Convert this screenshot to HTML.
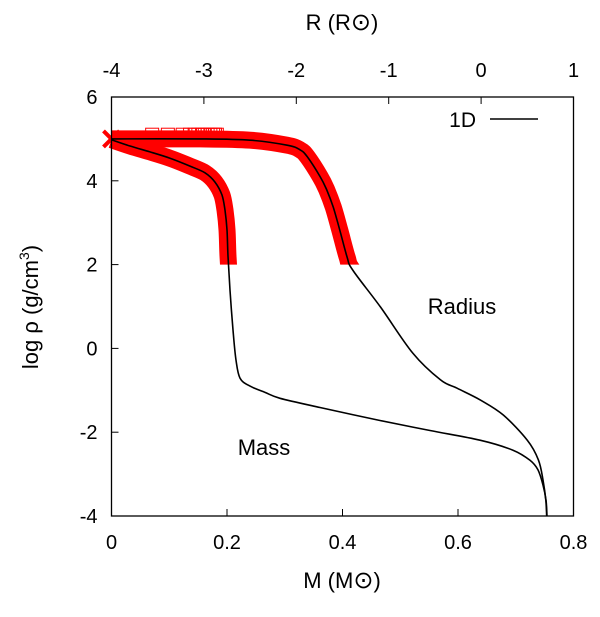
<!DOCTYPE html>
<html><head><meta charset="utf-8"><style>
body{margin:0;background:#fff}
svg text{font-family:"Liberation Sans","DejaVu Sans",sans-serif;fill:#000}
</style></head><body>
<svg id="c" width="600" height="612" viewBox="0 0 600 612">
<defs><clipPath id="above2"><rect x="100" y="80" width="480" height="185"/></clipPath></defs>
<g id="marks"></g>
<rect x="111.5" y="97" width="462" height="419" fill="none" stroke="#000" stroke-width="1.3"/>
<g id="axes"></g>
<text x="462" y="314" font-size="22" text-anchor="middle">Radius</text>
<text x="264" y="455" font-size="22" text-anchor="middle">Mass</text>
<g>
<text x="476" y="127" font-size="21" text-anchor="end">1D</text>
<line x1="490" y1="119" x2="538" y2="119" stroke="#000" stroke-width="1.5"/>
</g>
<text x="342" y="588" font-size="22" text-anchor="middle">M (M<tspan font-size="24">⊙</tspan>)</text>
<text x="342" y="30" font-size="22" text-anchor="middle">R (R<tspan font-size="24">⊙</tspan>)</text>
<text transform="translate(38,307) rotate(-90)" font-size="22" text-anchor="middle">log ρ (g/cm<tspan font-size="14" dy="-9">3</tspan><tspan dy="9">)</tspan></text>
</svg>
<script>
const massM=[0,0.032,0.0667,0.1013,0.1359,0.1619,0.1792,0.1913,0.1965,0.2,0.2017,0.2052,0.2104,0.2156,0.2225,0.2398,0.2658,0.2918,0.361,0.4649,0.5515,0.6381,0.6952,0.7247,0.7385,0.7472,0.7524,0.7541];
const massRho=[4.98,4.83,4.69,4.54,4.35,4.19,3.97,3.66,3.30,2.83,2.2,1.39,0.44,-0.28,-0.71,-0.90,-1.05,-1.19,-1.41,-1.72,-1.96,-2.19,-2.43,-2.67,-2.90,-3.26,-3.62,-4];
const radR=[-4,-3.04,-2.5,-2.1,-1.96,-1.88,-1.74,-1.67,-1.6,-1.53,-1.45,-1.39,-1.09,-0.74,-0.44,-0.26,-0.01,0.24,0.5,0.62,0.67,0.70,0.71];
const radRho=[5.0,5.0,4.97,4.85,4.74,4.57,4.09,3.78,3.37,2.83,2.18,1.87,0.99,-0.11,-0.75,-0.95,-1.23,-1.59,-2.19,-2.66,-3.14,-3.62,-4];
const squareR=[-3.56,-3.39,-3.23,-3.15,-3.1,-3.06,-3.02,-2.99,-2.96,-2.93,-2.9,-2.88,-2.86];
const squareRho=5.1;
const xTicks=[0,0.2,0.4,0.6,0.8];
const xTickLabels=["0","0.2","0.4","0.6","0.8"];
const topTicks=[-4,-3,-2,-1,0,1];
const topTickLabels=["-4","-3","-2","-1","0","1"];
const yTicks=[-4,-2,0,2,4,6];
const yTickLabels=["-4","-2","0","2","4","6"];
const X0=111.5,X1=573.5,Y0=97,Y1=516;
const xM=m=>X0+(m-0)/0.8*(X1-X0);
const xR=r=>X0+(r+4)/5*(X1-X0);
const yS=v=>Y1-(v+4)/10*(Y1-Y0);
const NS="http://www.w3.org/2000/svg";
const marks=document.getElementById('marks'),axes=document.getElementById('axes');
function mk(tag,attrs,parent){const e=document.createElementNS(NS,tag);for(const k in attrs)e.setAttribute(k,attrs[k]);parent.appendChild(e);return e;}
function smooth(xs,ys,fx){const P=xs.map((x,i)=>[fx(x),yS(ys[i])]);let d=`M${P[0][0]},${P[0][1]}`;
 for(let i=0;i<P.length-1;i++){const p0=P[Math.max(0,i-1)],p1=P[i],p2=P[i+1],p3=P[Math.min(P.length-1,i+2)];
  const c1=[p1[0]+(p2[0]-p0[0])/6,p1[1]+(p2[1]-p0[1])/6],c2=[p2[0]-(p3[0]-p1[0])/6,p2[1]-(p3[1]-p1[1])/6];
  d+=`C${c1[0].toFixed(1)},${c1[1].toFixed(1)} ${c2[0].toFixed(1)},${c2[1].toFixed(1)} ${p2[0].toFixed(1)},${p2[1].toFixed(1)}`;}
 return d;}
document.querySelector('#above2 rect').setAttribute('height',yS(2)-80);
let b1=mk('path',{d:smooth(massM,massRho,xM),fill:'none',stroke:'#f00','stroke-width':17,'clip-path':'url(#above2)'},marks);

let b2=mk('path',{d:smooth(radR,radRho,xR),fill:'none',stroke:'#f00','stroke-width':17,'clip-path':'url(#above2)'},marks);

squareR.forEach((r,i)=>{const s=mk('rect',{x:xR(r)-6.5,y:yS(squareRho)-6.5,width:13,height:13,fill:'none',stroke:'#f00','stroke-width':1},marks);
});
const cx=xM(0),cy=yS(5.0);
let cr=mk('path',{d:`M${cx-8},${cy-8}L${cx+8},${cy+8}M${cx-8},${cy+8}L${cx+8},${cy-8}`,stroke:'#f00','stroke-width':4},marks);

let l1=mk('path',{d:smooth(massM,massRho,xM),fill:'none',stroke:'#000','stroke-width':1.6},marks);

let l2=mk('path',{d:smooth(radR,radRho,xR),fill:'none',stroke:'#000','stroke-width':1.6},marks);

xTicks.forEach((t,i)=>{const x=xM(t);
 const tk=mk('path',{d:`M${x},${Y1}V${Y1-7}`,stroke:'#000','stroke-width':1},axes);
 
 const tx=mk('text',{x:x,y:Y1+33,'font-size':20,'text-anchor':'middle'},axes);tx.textContent=xTickLabels[i];
 });
topTicks.forEach((t,i)=>{const x=xR(t);
 const tk=mk('path',{d:`M${x},${Y0}V${Y0+7}`,stroke:'#000','stroke-width':1},axes);
 
 const tx=mk('text',{x:x,y:Y0-20,'font-size':20,'text-anchor':'middle'},axes);tx.textContent=topTickLabels[i];
 });
yTicks.forEach((t,i)=>{const y=yS(t);
 const tk=mk('path',{d:`M${X0},${y}H${X0+7}`,stroke:'#000','stroke-width':1},axes);
 
 const tx=mk('text',{x:X0-14,y:y+7,'font-size':20,'text-anchor':'end'},axes);tx.textContent=yTickLabels[i];
 });
</script>
</body></html>
